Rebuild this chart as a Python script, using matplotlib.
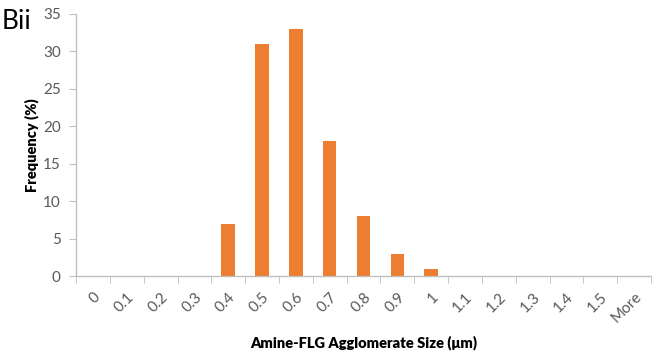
import numpy as np
import matplotlib.pyplot as plt

plt.rcParams['font.family'] = ['Lato', 'DejaVu Sans']

bins = ['0', '0.1', '0.2', '0.3', '0.4', '0.5', '0.6', '0.7', '0.8',
        '0.9', '1', '1.1', '1.2', '1.3', '1.4', '1.5', 'More']
freq = [0, 0, 0, 0, 7, 31, 33, 18, 8, 3, 1, 0, 0, 0, 0, 0, 0]

grey = '#595959'
axis_col = '#BFBFBF'

fig = plt.figure(figsize=(6.52, 3.58), dpi=100)
ax = fig.add_axes([0.1166, 0.229, 0.882, 0.732])

x = np.arange(len(bins))
ax.bar(x, freq, width=0.4, color='#ED7D31', edgecolor='none')

ax.set_xlim(-0.5, len(bins) - 0.5)
ax.set_ylim(0, 35)
ax.set_yticks(range(0, 36, 5))
ax.set_xticks(x)
ax.set_xticklabels(bins, rotation=45, ha='right', rotation_mode='anchor')
ax.set_xticks(np.arange(-0.5, len(bins)), minor=True)

for s in ['top', 'right']:
    ax.spines[s].set_visible(False)
for s in ['left', 'bottom']:
    ax.spines[s].set_color(axis_col)
    ax.spines[s].set_linewidth(1.0)

ax.tick_params(axis='x', which='major', length=0, pad=10, labelsize=11, labelcolor=grey)
ax.tick_params(axis='x', which='minor', length=5, color=axis_col)
ax.tick_params(axis='y', length=5, color=axis_col, labelsize=11, labelcolor=grey, pad=6)

ax.set_ylabel('Frequency (%)', fontsize=10.5, fontweight='heavy', color='black', labelpad=3)
ax.set_xlabel('Amine-FLG Agglomerate Size (μm)', fontsize=10.5, fontweight='heavy',
              color='black', labelpad=7)

fig.text(0.002, 0.975, 'Bii', fontsize=19, va='top', ha='left')

fig.savefig('out.png', dpi=100)
